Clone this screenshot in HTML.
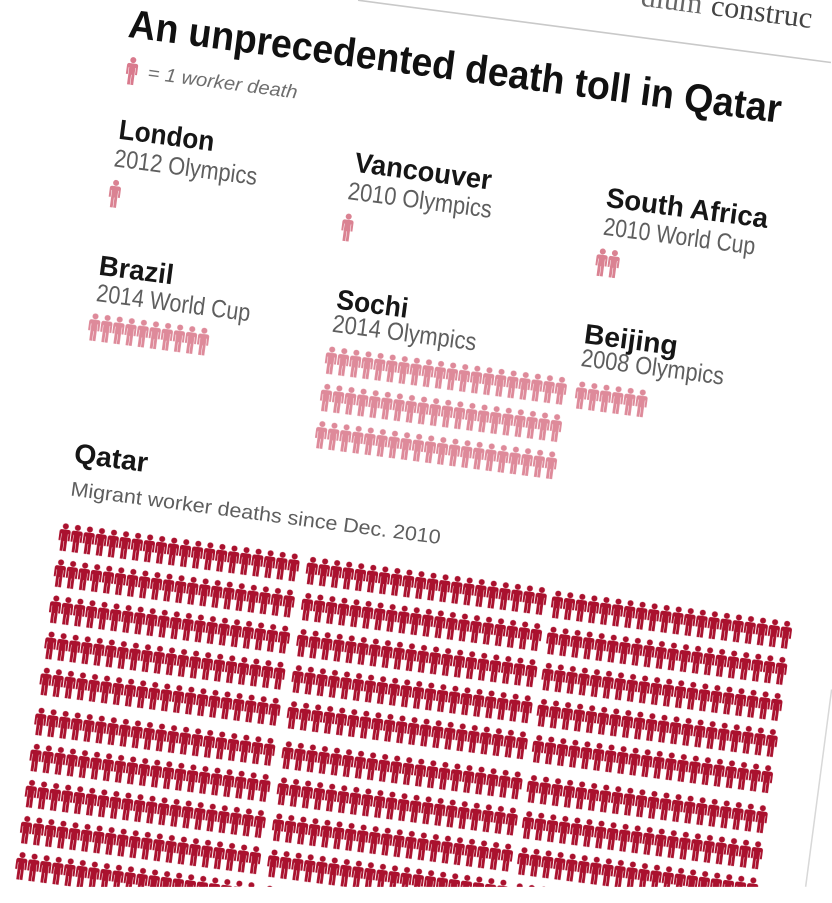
<!DOCTYPE html>
<html>
<head>
<meta charset="utf-8">
<style>
  html, body { margin: 0; padding: 0; background: #ffffff; width: 832px; height: 903px; overflow: hidden; }
  svg { display: block; overflow: hidden; }
</style>
</head>
<body>
<svg width="832" height="903" viewBox="0 0 832 903" xmlns="http://www.w3.org/2000/svg" xmlns:xlink="http://www.w3.org/1999/xlink">
  <defs>
    <clipPath id="frame">
      <rect x="0" y="0" width="832" height="887"/>
    </clipPath>
    <g id="fig">
      <circle cx="0" cy="-10.8" r="3"/>
      <path d="M-5.6,-5.3a2.2,2.2 0 0 1 2.2,-2.2h6.8a2.2,2.2 0 0 1 2.2,2.2v9h-2v-7h-0.5v17.3h-2.85v-10h-0.5v10h-2.85v-17.3h-0.5v7h-2z"/>
    </g>
    <pattern id="qp" x="0" y="0" width="12.15" height="36.4" patternUnits="userSpaceOnUse">
      <use href="#fig" xlink:href="#fig" x="6.075" y="14" fill="#aa112e"/>
    </pattern>
    <pattern id="qp1" x="0" y="0" width="12.15" height="36.4" patternUnits="userSpaceOnUse" patternTransform="rotate(7.5) translate(127.9,696)">
      <use href="#fig" xlink:href="#fig" x="6.075" y="14" fill="#aa112e"/>
    </pattern>
    <pattern id="qp2" x="0" y="0" width="12.15" height="36.4" patternUnits="userSpaceOnUse" patternTransform="rotate(7.5) translate(377.4,697)">
      <use href="#fig" xlink:href="#fig" x="6.075" y="14" fill="#aa112e"/>
    </pattern>
    <pattern id="qp3" x="0" y="0" width="12.15" height="36.4" patternUnits="userSpaceOnUse" patternTransform="rotate(7.5) translate(624.9,698.5)">
      <use href="#fig" xlink:href="#fig" x="6.075" y="14" fill="#aa112e"/>
    </pattern>
    <pattern id="pp" x="0" y="0" width="12.2" height="37.6" patternUnits="userSpaceOnUse">
      <use href="#fig" xlink:href="#fig" x="6.1" y="14" fill="#de8a9a"/>
    </pattern>
  </defs>

  <rect x="0" y="0" width="832" height="903" fill="#ffffff"/>

  <g clip-path="url(#frame)">
  <g transform="rotate(7.5)" font-family="'Liberation Sans', Arial, sans-serif">
    <!-- top page remnants -->
    <text x="697" y="-78" font-family="'Liberation Serif', serif" font-size="30" fill="#666" text-anchor="end">dium</text>
    <text x="706" y="-78" font-family="'Liberation Serif', serif" font-size="30" fill="#444">construc</text>
    <line x1="355" y1="-46.5" x2="832" y2="-46.5" stroke="#c9c9c9" stroke-width="1.6"/>
    <line x1="914.5" y1="575" x2="914.5" y2="774" stroke="#d8d8d8" stroke-width="1.5"/>

    <!-- title -->
    <text x="131" y="20" font-size="40" font-weight="bold" fill="#111" textLength="658" lengthAdjust="spacingAndGlyphs">An unprecedented death toll in Qatar</text>

    <!-- legend -->
    <use href="#fig" xlink:href="#fig" x="140" y="53" fill="#d97a8d"/>
    <text x="156" y="59" font-size="19" font-style="italic" fill="#6e6e6e" textLength="151" lengthAdjust="spacingAndGlyphs">= 1 worker death</text>

    <!-- London -->
    <text x="135" y="122" font-size="28" font-weight="bold" fill="#161616" textLength="96" lengthAdjust="spacingAndGlyphs">London</text>
    <text x="134" y="150" font-size="25" fill="#5e5e5e" textLength="144" lengthAdjust="spacingAndGlyphs">2012 Olympics</text>
    <use href="#fig" xlink:href="#fig" x="139" y="177" fill="#da8292"/>

    <!-- Vancouver -->
    <text x="373" y="124" font-size="28" font-weight="bold" fill="#161616" textLength="138" lengthAdjust="spacingAndGlyphs">Vancouver</text>
    <text x="370" y="152" font-size="25" fill="#5e5e5e" textLength="145" lengthAdjust="spacingAndGlyphs">2010 Olympics</text>
    <use href="#fig" xlink:href="#fig" x="374" y="180" fill="#da8292"/>

    <!-- South Africa -->
    <text x="627" y="126" font-size="28" font-weight="bold" fill="#161616" textLength="163" lengthAdjust="spacingAndGlyphs">South Africa</text>
    <text x="628" y="154" font-size="25" fill="#5e5e5e" textLength="153" lengthAdjust="spacingAndGlyphs">2010 World Cup</text>
    <use href="#fig" xlink:href="#fig" x="630.5" y="181.5" fill="#da8292"/>
    <use href="#fig" xlink:href="#fig" x="642.7" y="181.5" fill="#da8292"/>

    <!-- Brazil -->
    <text x="133" y="259.5" font-size="28" font-weight="bold" fill="#161616" textLength="75" lengthAdjust="spacingAndGlyphs">Brazil</text>
    <text x="134" y="286" font-size="25" fill="#5e5e5e" textLength="155" lengthAdjust="spacingAndGlyphs">2014 World Cup</text>
    <g transform="translate(129.9,298)">
      <rect x="0" y="0" width="122" height="28" fill="url(#pp)"/>
    </g>

    <!-- Sochi -->
    <text x="373" y="262" font-size="28" font-weight="bold" fill="#161616" textLength="72" lengthAdjust="spacingAndGlyphs">Sochi</text>
    <text x="372" y="285.5" font-size="25" fill="#5e5e5e" textLength="145" lengthAdjust="spacingAndGlyphs">2014 Olympics</text>
    <g transform="translate(368.9,300)">
      <rect x="0" y="0" width="244" height="103.2" fill="url(#pp)"/>
    </g>

    <!-- Beijing -->
    <text x="623" y="264" font-size="28" font-weight="bold" fill="#161616" textLength="94" lengthAdjust="spacingAndGlyphs">Beijing</text>
    <text x="623" y="287" font-size="25" fill="#5e5e5e" textLength="144" lengthAdjust="spacingAndGlyphs">2008 Olympics</text>
    <g transform="translate(621.4,302)">
      <rect x="0" y="0" width="73.2" height="28" fill="url(#pp)"/>
    </g>

    <!-- Qatar -->
    <text x="133" y="449" font-size="28" font-weight="bold" fill="#161616" textLength="74" lengthAdjust="spacingAndGlyphs">Qatar</text>
    <text x="134" y="482" font-size="20" fill="#5e5e5e" textLength="373" lengthAdjust="spacingAndGlyphs">Migrant worker deaths since Dec. 2010</text>

    <!-- upper halves of blocks (rows 1-5) -->
    <g transform="translate(127.9,510)">
      <rect x="0" y="0" width="243" height="174" fill="url(#qp)"/>
    </g>
    <g transform="translate(377.4,511)">
      <rect x="0" y="0" width="243" height="174" fill="url(#qp)"/>
    </g>
    <g transform="translate(624.9,512.5)">
      <rect x="0" y="0" width="243" height="174" fill="url(#qp)"/>
    </g>
  </g>

  <!-- lower halves of blocks (rows 6-10), drawn in screen space and cut at the photo edge -->
  <polygon points="35.96,706.73 276.88,738.45 257.33,886.9 72.14,886.9 13.25,879.24" fill="url(#qp1)"/>
  <polygon points="283.19,740.29 524.11,772.01 508.97,886.9 263.87,886.9" fill="url(#qp2)"/>
  <polygon points="528.37,774.09 769.29,805.81 758.60,886.9 513.51,886.9" fill="url(#qp3)"/>
  </g>
</svg>
</body>
</html>
